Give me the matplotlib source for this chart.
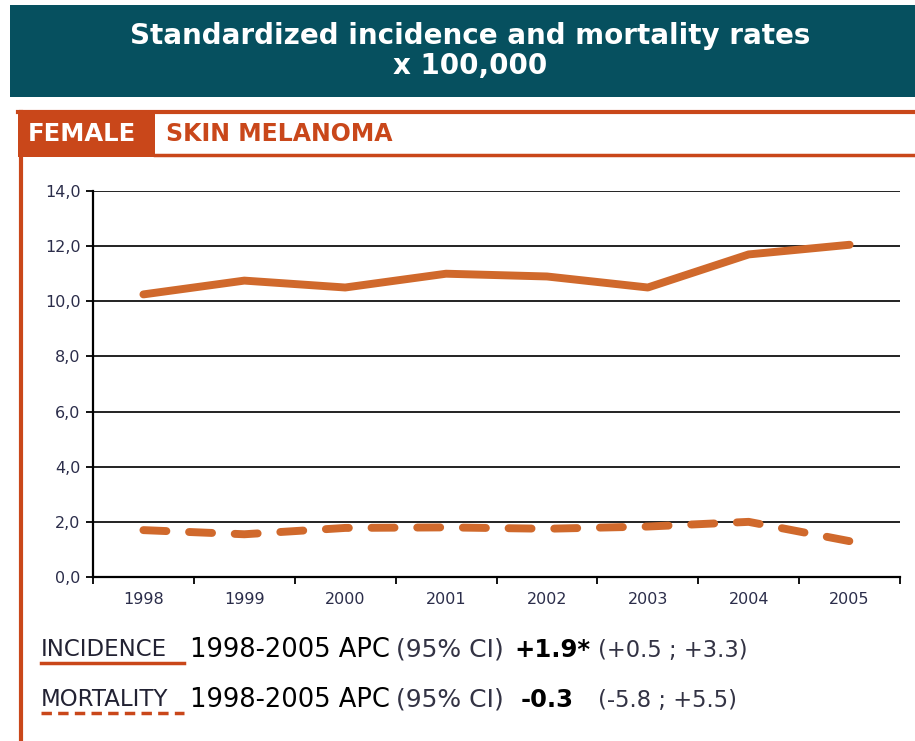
import numpy as np
import matplotlib.pyplot as plt
from matplotlib.patches import Rectangle
from matplotlib.lines import Line2D

years = ['1998', '1999', '2000', '2001', '2002', '2003', '2004', '2005']
incidence = [10.25, 10.75, 10.5, 11.0, 10.9, 10.5, 11.7, 12.05]
mortality = [1.7, 1.55, 1.78, 1.8, 1.75, 1.83, 2.0, 1.3]
yticks = [0, 2, 4, 6, 8, 10, 12, 14]

teal = '#06505f'
frame = '#c9471a'
line_col = '#d0692c'
tick_col = '#2b2d4a'

plt.rcParams['font.family'] = ['DejaVu Sans']

fig = plt.figure(figsize=(9.15, 7.41), dpi=100)
W, H = 915, 741

def fx(x):
    return x / W

def fy(y):
    return 1 - y / H

# title box
fig.patches.append(Rectangle((fx(10), fy(97)), fx(905), 92 / H, transform=fig.transFigure,
                             facecolor=teal, edgecolor='none'))
fig.text(fx(470), fy(36), 'Standardized incidence and mortality rates', ha='center', va='center',
         color='white', fontsize=20, fontweight='bold')
fig.text(fx(470), fy(66), 'x 100,000', ha='center', va='center',
         color='white', fontsize=20, fontweight='bold')

# section frame
fig.patches.append(Rectangle((fx(18), fy(157)), fx(137), 45 / H, transform=fig.transFigure,
                             facecolor=frame, edgecolor='none'))
fig.lines.append(Line2D([fx(18), 1], [fy(112), fy(112)], transform=fig.transFigure, color=frame, lw=3))
fig.lines.append(Line2D([fx(155), 1], [fy(155), fy(155)], transform=fig.transFigure, color=frame, lw=2.5))
fig.lines.append(Line2D([fx(20.5), fx(20.5)], [fy(112), 0], transform=fig.transFigure, color=frame, lw=3))
fig.text(fx(28), fy(134), 'FEMALE', ha='left', va='center', color='white', fontsize=17.5, fontweight='bold')
fig.text(fx(166), fy(134), 'SKIN MELANOMA', ha='left', va='center', color=frame, fontsize=17, fontweight='bold')

# chart
ax = fig.add_axes([fx(93), fy(577), fx(900 - 93), (577 - 191) / H])
x = np.arange(len(years))
ax.plot(x, incidence, color=line_col, lw=5.7, solid_capstyle='round', solid_joinstyle='round')
ax.plot(x, mortality, color=line_col, lw=5.7, dashes=(2.9, 2.87), dash_capstyle='round')
ax.set_xlim(-0.5, 7.5)
ax.set_ylim(0, 14)
ax.set_yticks(yticks)
ax.set_yticklabels([f'{v:.1f}'.replace('.', ',') for v in yticks])
ax.set_xticks(np.arange(-0.5, 8, 1))
ax.set_xticklabels([])
ax.set_xticks(x, minor=True)
ax.set_xticklabels(years, minor=True)
ax.tick_params(axis='x', which='minor', length=0, pad=11)
ax.tick_params(axis='x', which='major', length=5, width=1.3, direction='out')
ax.tick_params(axis='y', length=5, width=1.3, direction='out', pad=4)
ax.tick_params(which='both', labelsize=11.5, labelcolor=tick_col)
for v in yticks[1:]:
    ax.axhline(v, color='#111111', lw=1.3, zorder=0)
for s in ['top', 'right']:
    ax.spines[s].set_visible(False)
ax.spines['left'].set_linewidth(1.6)
ax.spines['bottom'].set_linewidth(1.6)

# footer
rows = [
    (650, 'INCIDENCE', '+1.9*', '(+0.5 ; +3.3)', 514, 598, 'solid'),
    (700, 'MORTALITY', '-0.3', '(-5.8 ; +5.5)', 521, 598, 'dashed'),
]
for y, label, apc, ci, x_apc, x_ci, style in rows:
    fig.text(fx(41), fy(y), label, ha='left', va='center', fontsize=16.5, color='#222233')
    fig.text(fx(190), fy(y), '1998-2005 APC', ha='left', va='center', fontsize=18.5, color='black')
    fig.text(fx(396), fy(y), '(95% CI)', ha='left', va='center', fontsize=18, color='#333344')
    fig.text(fx(x_apc), fy(y), apc, ha='left', va='center', fontsize=17.5, color='black', fontweight='bold')
    fig.text(fx(x_ci), fy(y), ci, ha='left', va='center', fontsize=16.3, color='#333344')
    ul = Line2D([fx(41), fx(184)], [fy(y + 13), fy(y + 13)], transform=fig.transFigure,
                color=frame, lw=2.5)
    if style == 'dashed':
        ul.set_dashes((3, 1.8))
    fig.lines.append(ul)

fig.savefig('out.png', dpi=100)
